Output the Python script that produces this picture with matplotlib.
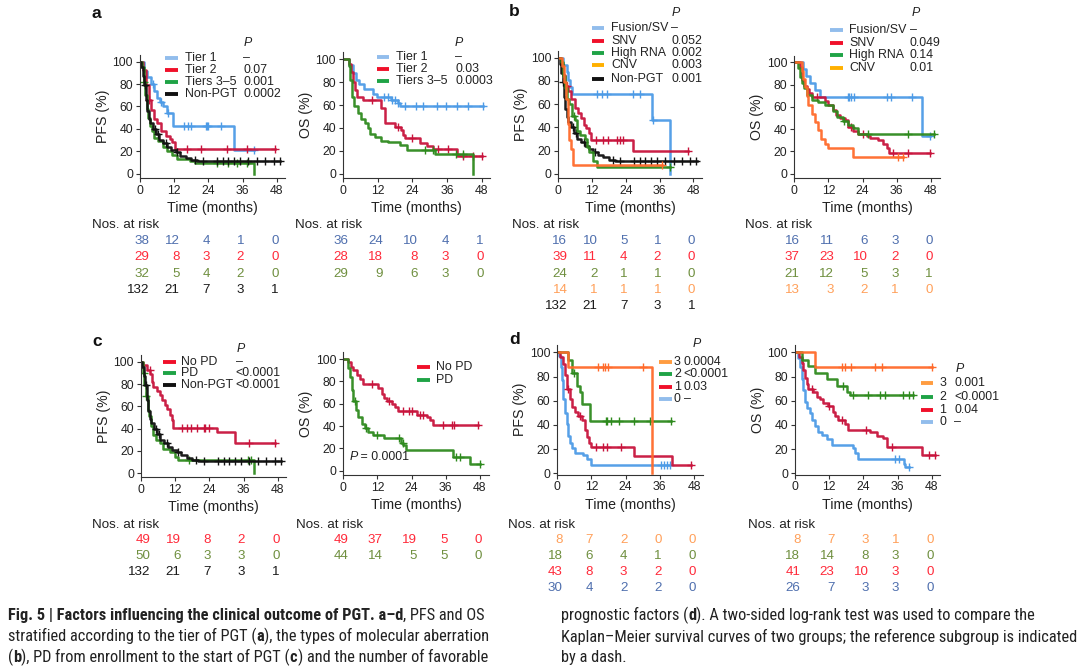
import numpy as np
import matplotlib
matplotlib.use('Agg')
import matplotlib.pyplot as plt
import matplotlib.transforms as mtransforms
from matplotlib import font_manager as fm

# ---- colours
BLUE, RED, GREEN, ORANGE, BLACK = '#4d9be6', '#c8143c', '#2e8a1e', '#ff6a2a', '#111111'
LBLUE, LRED, LGREEN, LORANGE, LGOLD = '#92bdec', '#f0102a', '#1fa346', '#ff9c40', '#ffb000'
TBLUE, TRED, TGREEN, TORANGE, TBLACK = '#4f6fae', '#ff2a3a', '#6f8f3f', '#ffa05a', '#1a1a1a'

# ---- KM step data: times (months), survival (%), censor times
nonpgt_t = [0, 0.5, 1.0, 1.5, 2.0, 2.5, 3.0, 3.5, 4.5, 5.5, 6.5, 8.0, 9.5, 11.0, 12.5, 14.0, 16.0, 18.0, 20.0]
nonpgt_s = [100, 95, 87, 79, 66, 56, 49, 45, 40, 35, 30, 27, 24, 21, 19, 16, 14, 12, 11]
nonpgt_c = [1.7, 5.2, 6.3, 9.1, 12.9, 19.3, 22, 27, 29, 31, 33, 35, 38, 41, 44, 47, 49]
nonpgt_end = 49.2

# a, PFS
a_pfs_t1_t = [0, 1.5, 2.5, 4, 5, 6, 7, 8, 9.5, 11.5, 33]
a_pfs_t1_s = [100, 92, 86, 80, 74, 68, 64, 60, 54, 43, 21]
a_pfs_t1_c = [4.5, 7.5, 10, 15.5, 17, 18, 23, 23.5, 24, 28.5, 40]
a_pfs_t2_t = [0, 1.0, 2.0, 3.0, 3.8, 4.8, 5.8, 7.5, 9.3, 10.5, 11.3, 12.2]
a_pfs_t2_s = [100, 93, 79, 66, 57, 49, 45, 38, 34, 31, 28, 22]
a_pfs_t2_c = [3.2, 16.5, 21.5, 30.5, 37.5, 47.5]
a_pfs_t3_t = [0, 0.8, 1.3, 1.8, 2.3, 2.9, 3.5, 4.1, 4.9, 6.3, 8.2, 9.6, 11.1, 12.9, 17.5, 19.3, 40.2]
a_pfs_t3_s = [100, 95, 82, 70, 58, 50, 43, 38, 32, 29, 24, 20, 17, 13, 11, 9.5, 0]
a_pfs_t3_c = [1.5, 27, 31, 34, 37.5]
# a, OS
a_os_t1_t = [0, 2.1, 3.3, 4.4, 5.7, 7.4, 10.3, 11.6, 16.5, 19.0, 19.7]
a_os_t1_s = [100, 95, 88, 82, 78, 74, 70, 67, 64, 62, 59]
a_os_t1_c = [14.2, 15.6, 16.8, 17.9, 19.2, 21.5, 25.4, 27.7, 32.4, 35.8, 39.3, 43.4, 48.5]
a_os_t2_t = [0, 2.1, 2.9, 3.5, 4.0, 4.9, 6.9, 13.3, 14.5, 17.9, 19.9, 20.6, 21.4, 26.6, 28.9, 31.2, 39.5]
a_os_t2_s = [100, 96, 89, 80, 73, 67, 64, 57, 44, 41, 38, 34, 31, 27, 24, 22, 15.5]
a_os_t2_c = [10, 19, 24, 33, 36.5, 41.5, 45, 48]
a_os_t3_t = [0, 2.1, 2.5, 3.2, 3.7, 5.2, 6.4, 7.5, 8.7, 9.2, 11.0, 13.3, 15.6, 19.7, 22.0, 31.8, 44.9]
a_os_t3_s = [100, 94, 82, 67, 59, 53, 48, 44, 40, 35, 32, 29, 28, 25, 21, 17, 0]
a_os_t3_c = [28.5, 31, 39, 41.5]

# b, PFS
b_pfs_fus_t = [0, 1.8, 3.0, 3.6, 4.1, 4.7, 33.2, 39.7]
b_pfs_fus_s = [100, 94, 88, 81, 75, 69, 46, 0]
b_pfs_fus_c = [13.6, 15.4, 17.2, 26.7, 29.0, 33.5]
b_pfs_snv_t = [0, 1, 1.8, 2.4, 3.4, 4.5, 5.8, 7.0, 8.2, 9.3, 10.0, 11.0, 11.8, 26.7]
b_pfs_snv_s = [100, 95, 85, 76, 71, 64, 57, 52, 48, 42, 39, 35, 29, 19.5]
b_pfs_snv_c = [3.0, 13.5, 16, 17.5, 21, 22, 23, 46.2]
b_pfs_rna_t = [0, 1.0, 1.5, 2.4, 3.0, 3.9, 4.7, 5.9, 6.8, 7.7, 9.5, 10.3, 11.0, 12.4, 13.6]
b_pfs_rna_s = [100, 96, 84, 74, 64, 60, 50, 46, 37, 33, 30, 23, 19, 11, 6]
b_pfs_rna_c = [5.5, 39.7]
b_pfs_cnv_t = [0, 1.2, 2.0, 2.7, 3.3, 3.8, 4.4, 5.3]
b_pfs_cnv_s = [100, 93, 79, 64, 43, 29, 21, 7.5]
b_pfs_cnv_c = [36.7]
# b, OS
b_os_fus_t = [0, 2.9, 4.1, 5.5, 7.3, 9.0, 44.7]
b_os_fus_s = [100, 94, 88, 81, 75, 69, 34]
b_os_fus_c = [18.8, 19.3, 20, 21, 32.4, 33.8, 41.5, 47.7]
b_os_snv_t = [0, 2.0, 2.6, 3.4, 4.3, 5.2, 6.1, 10.8, 11.9, 13.7, 14.6, 16.0, 17.8, 19.0, 20.7, 22.5, 25.4, 26.6,
              29.5, 31.3, 32.4, 33.4]
b_os_snv_s = [100, 96, 84, 79, 76, 72, 69, 65, 62, 57, 53, 50, 48, 42, 38, 36, 34, 32, 30, 27, 23, 19]
b_os_snv_c = [8, 20, 24, 34.5, 40, 47.7]
b_os_rna_t = [0, 1.4, 2.0, 2.6, 3.4, 4.3, 6.1, 8.4, 10.8, 13.7, 14.9, 17.2, 19.0, 20.7, 22.5]
b_os_rna_s = [100, 95, 87, 81, 77, 71, 66, 64, 62, 56, 51, 47, 44, 41, 36]
b_os_rna_c = [17.5, 26, 40, 49]
b_os_cnv_t = [0, 2.6, 3.2, 3.7, 4.3, 4.9, 6.1, 7.3, 8.4, 9.3, 10.8, 11.9, 20.7]
b_os_cnv_s = [100, 92, 85, 78, 70, 62, 54, 46, 39, 31, 27, 23, 15]
b_os_cnv_c = [36.5, 38.3]

# c, PFS
c_pfs_no_t = [0, 0.8, 2.0, 3.2, 3.8, 4.3, 5.5, 6.7, 7.3, 8.4, 9.0, 10.2, 10.8, 11.4, 26.6, 33.0]
c_pfs_no_s = [100, 97, 93, 89, 82, 77, 74, 70, 66, 61, 58, 52, 48, 41, 37, 27]
c_pfs_no_c = [3.0, 14.5, 16, 17.5, 19.5, 22, 22.5, 24, 38, 47]
c_pfs_pd_t = [0, 0.6, 1.2, 1.6, 2.3, 2.9, 3.5, 4.3, 5.3, 6.7, 7.8, 10.2, 11.9, 13.1, 39.7]
c_pfs_pd_s = [100, 90, 79, 69, 57, 51, 42, 34, 30, 27, 22, 19, 15, 12, 0]
c_pfs_pd_c = [0.9, 1.8, 17, 37.5, 38.5]
# c, OS
c_os_no_t = [0, 1.8, 2.6, 3.5, 4.7, 5.9, 7.0, 12.3, 13.5, 14.3, 15.2, 17.0, 18.1, 19.3, 25.8, 29.3, 30.4, 31.6]
c_os_no_s = [100, 97, 93, 90, 86, 82, 78, 74, 69, 65, 62, 60, 57, 53, 50, 48, 45, 41]
c_os_no_c = [10, 16, 21, 23, 24, 27, 28, 35, 38, 39, 47.4]
c_os_pd_t = [0, 1.8, 2.3, 2.9, 3.5, 4.4, 5.3, 6.4, 7.6, 8.8, 10.5, 14.3, 20.3, 21.1, 22.0, 38.6, 44.5]
c_os_pd_s = [100, 92, 84, 72, 62, 54, 48, 42, 38, 35, 32, 29, 25, 23, 18.5, 12.5, 6]
c_os_pd_c = [4, 8, 12, 19.5, 21, 39.5, 41, 48]

# d, PFS (number of favourable prognostic factors)
d_pfs_3_t = [0, 3.9, 33.1]
d_pfs_3_s = [100, 87.5, 0]
d_pfs_3_c = [14.4, 16.2, 16.8, 17.9, 30.2]
d_pfs_2_t = [0, 3.9, 5.0, 6.8, 8.0, 8.6, 11.5]
d_pfs_2_s = [100, 94, 83, 72, 67, 57, 43]
d_pfs_2_c = [6, 17, 17.5, 19, 21.5, 27, 32.5, 40]
d_pfs_1_t = [0, 0.9, 2.1, 2.7, 3.3, 4.4, 5.0, 6.2, 7.4, 8.5, 9.7, 10.5, 11.2, 11.7, 26.9, 40.4]
d_pfs_1_s = [100, 96, 90, 81, 70, 61, 55, 51, 47, 44, 36, 30, 25, 21.5, 14, 7]
d_pfs_1_c = [3.6, 8, 13.5, 16, 17.5, 22.5, 46.8]
d_pfs_0_t = [0, 0.7, 1.2, 1.6, 2.1, 2.7, 3.3, 3.9, 4.4, 5.0, 6.2, 9.1, 10.3, 11.7]
d_pfs_0_s = [100, 97, 88, 77, 61, 50, 41, 31, 25, 21, 16.5, 15, 12, 7]
d_pfs_0_c = [36.5, 37.5, 38.5, 39.5]
# d, OS
d_os_3_t = [0, 7.0]
d_os_3_s = [100, 87.5]
d_os_3_c = [16.5, 17.4, 19.7, 28.1, 30.4, 48]
d_os_2_t = [0, 2.3, 4.7, 7.0, 11.1, 14.6, 18.1, 19.3]
d_os_2_s = [100, 94, 89, 83, 78, 72, 67, 65]
d_os_2_c = [17, 20.5, 25.5, 30, 31.5, 38, 40, 41.6]
d_os_1_t = [0, 1.5, 2.3, 2.9, 3.5, 4.1, 4.7, 6.4, 7.6, 8.8, 9.9, 11.7, 13.5, 14.0, 15.2, 17.6, 18.7, 26.4, 28.7,
            30.8, 32.2, 44.5]
d_os_1_s = [100, 96, 91, 85, 79, 74, 70, 67, 63, 61, 58, 56, 51, 47, 44, 41, 36, 34, 31, 29, 22, 15]
d_os_1_c = [6, 12, 16.5, 25, 34, 47, 49]
d_os_0_t = [0, 1.2, 1.8, 2.3, 2.9, 3.5, 4.1, 5.3, 5.9, 7.0, 8.2, 9.4, 11.1, 12.9, 20.5, 21.1, 22.2, 38.1, 38.6]
d_os_0_s = [100, 95, 88, 78, 69, 59, 54, 50, 44, 39, 34, 32, 28, 23, 21, 17, 12, 8, 5.5]
d_os_0_c = [35, 36.5, 40]

# ---- numbers at risk (0, 12, 24, 36, 48 months)
risk_months = [0, 12, 24, 36, 48]
a_pfs_risk = [[38, 12, 4, 1, 0], [29, 8, 3, 2, 0], [32, 5, 4, 2, 0], [132, 21, 7, 3, 1]]
a_os_risk = [[36, 24, 10, 4, 1], [28, 18, 8, 3, 0], [29, 9, 6, 3, 0]]
b_pfs_risk = [[16, 10, 5, 1, 0], [39, 11, 4, 2, 0], [24, 2, 1, 1, 0], [14, 1, 1, 1, 0], [132, 21, 7, 3, 1]]
b_os_risk = [[16, 11, 6, 3, 0], [37, 23, 10, 2, 0], [21, 12, 5, 3, 1], [13, 3, 2, 1, 0]]
c_pfs_risk = [[49, 19, 8, 2, 0], [50, 6, 3, 3, 0], [132, 21, 7, 3, 1]]
c_os_risk = [[49, 37, 19, 5, 0], [44, 14, 5, 5, 0]]
d_pfs_risk = [[8, 7, 2, 0, 0], [18, 6, 4, 1, 0], [43, 8, 3, 2, 0], [30, 4, 2, 2, 0]]
d_os_risk = [[8, 7, 3, 1, 0], [18, 14, 8, 3, 0], [41, 23, 10, 3, 0], [26, 7, 3, 3, 0]]

# ---- legends: label, P value
a_pfs_leg = [('Tier 1', '–'), ('Tier 2', '0.07'), ('Tiers 3–5', '0.001'), ('Non-PGT', '0.0002')]
a_os_leg = [('Tier 1', '–'), ('Tier 2', '0.03'), ('Tiers 3–5', '0.0003')]
b_pfs_leg = [('Fusion/SV', '–'), ('SNV', '0.052'), ('High RNA', '0.002'), ('CNV', '0.003'), ('Non-PGT', '0.001')]
b_os_leg = [('Fusion/SV', '–'), ('SNV', '0.049'), ('High RNA', '0.14'), ('CNV', '0.01')]
c_pfs_leg = [('No PD', '–'), ('PD', '<0.0001'), ('Non-PGT', '<0.0001')]
c_os_leg = [('No PD', None), ('PD', None)]
d_pfs_leg = [('3', '0.0004'), ('2', '<0.0001'), ('1', '0.03'), ('0', '–')]
d_os_leg = [('3', '0.001'), ('2', '<0.0001'), ('1', '0.04'), ('0', '–')]

plt.rcParams['font.family'] = ['Liberation Sans', 'DejaVu Sans']
plt.rcParams['axes.linewidth'] = 0.8
W, H = 1080, 672
fig = plt.figure(figsize=(10.8, 6.72), dpi=100)
ov = fig.add_axes([0, 0, 1, 1], zorder=10)
ov.set_xlim(0, W)
ov.set_ylim(H, 0)
ov.axis('off')
TXT = '#222222'
LEG_FS = 8.9
TAB_FS = 9.6


def km_axes(x0, x48, y100, y0, ylab, ylo=-3.5, yhi=106, xhi=51):
    pxm = (x48 - x0) / 48.
    pyp = (y0 - y100) / 100.
    right = x0 + xhi * pxm
    top = y0 - yhi * pyp
    bot = y0 - ylo * pyp
    ax = fig.add_axes([x0 / W, 1 - bot / H, (right - x0) / W, (bot - top) / H])
    ax.set_xlim(0, xhi)
    ax.set_ylim(ylo, yhi)
    ax.set_xticks(risk_months)
    ax.set_yticks([0, 20, 40, 60, 80, 100])
    for sp in ['top', 'right']:
        ax.spines[sp].set_visible(False)
    for sp in ['left', 'bottom']:
        ax.spines[sp].set_color('#333333')
    ax.tick_params(length=3, width=0.8, labelsize=8.8, pad=2, colors='#333333', labelcolor=TXT)
    ax.set_xlabel('Time (months)', fontsize=10.2, color=TXT, labelpad=3)
    ax.set_ylabel(ylab, fontsize=10.2, color=TXT, labelpad=2)
    ax.patch.set_alpha(0)
    return ax


def km(ax, t, s, cens, color, end=None):
    if end is None:
        end = max(cens + [t[-1]])
    tt = list(t) + [end]
    ss = list(s) + [s[-1]]
    ax.step(tt, ss, where='post', color=color, lw=1.8, alpha=0.95)
    ta = np.array(t)
    sa = np.array(s)
    cy = [sa[np.searchsorted(ta, c, side='right') - 1] for c in cens]
    ax.plot(cens, cy, ls='none', marker='+', ms=6, mew=1.0, color=color)


def legend(items, colors, xl, xt, xv, ys, pxy=None, fs=LEG_FS):
    for (lab, val), col, y in zip(items, colors, ys):
        ov.plot([xl, xl + 12.5], [y, y], color=col, lw=2.8, solid_capstyle='butt')
        ov.text(xt, y, lab, fontsize=fs, va='center', ha='left', color=TXT)
        if val is not None:
            ov.text(xv, y, val, fontsize=fs, va='center', ha='left', color=TXT)
    if pxy is not None:
        ov.text(pxy[0], pxy[1], 'P', fontsize=fs, style='italic', va='center', ha='left', color=TXT)


def risk_table(ax, rows, colors, xlab, ylab, dy):
    ov.text(xlab, ylab, 'Nos. at risk', fontsize=TAB_FS, va='center', ha='left', color=TXT)
    tr = mtransforms.blended_transform_factory(ax.transData, ov.transData)
    for j, m in enumerate(risk_months):
        nd = max(len(str(r[j])) for r in rows)
        off = mtransforms.ScaledTranslation((3.7 * nd - 2) / 100., 0, fig.dpi_scale_trans)
        for i, (r, col) in enumerate(zip(rows, colors)):
            ov.text(m, ylab + dy * (i + 1), str(r[j]), transform=tr + off, fontsize=TAB_FS,
                    ha='right', va='center', color=col)


# ---------------- panel a
ax = km_axes(140, 276.7, 61.7, 173.7, 'PFS (%)')
km(ax, a_pfs_t1_t, a_pfs_t1_s, a_pfs_t1_c, BLUE)
km(ax, a_pfs_t2_t, a_pfs_t2_s, a_pfs_t2_c, RED)
km(ax, a_pfs_t3_t, a_pfs_t3_s, a_pfs_t3_c, GREEN)
km(ax, nonpgt_t, nonpgt_s, nonpgt_c, BLACK, nonpgt_end)
legend(a_pfs_leg, [LBLUE, LRED, LGREEN, BLACK], 165, 185, 243, [57.7, 70, 81.7, 94.3], (244, 43))
risk_table(ax, a_pfs_risk, [TBLUE, TRED, TGREEN, TBLACK], 91.5, 225, 16.2)

ax = km_axes(343, 481.7, 59.3, 173.7, 'OS (%)')
km(ax, a_os_t1_t, a_os_t1_s, a_os_t1_c, BLUE)
km(ax, a_os_t2_t, a_os_t2_s, a_os_t2_c, RED)
km(ax, a_os_t3_t, a_os_t3_s, a_os_t3_c, GREEN)
legend(a_os_leg, [LBLUE, LRED, LGREEN], 376.5, 396, 455, [57.3, 69.3, 81], (455, 43))
risk_table(ax, a_os_risk, [TBLUE, TRED, TGREEN], 295, 225, 16.2)

# ---------------- panel b
ax = km_axes(558.3, 693.3, 57.7, 173.7, 'PFS (%)')
km(ax, b_pfs_fus_t, b_pfs_fus_s, b_pfs_fus_c, BLUE)
km(ax, b_pfs_snv_t, b_pfs_snv_s, b_pfs_snv_c, RED)
km(ax, nonpgt_t, nonpgt_s, nonpgt_c, BLACK, nonpgt_end)
km(ax, b_pfs_rna_t, b_pfs_rna_s, b_pfs_rna_c, GREEN)
km(ax, b_pfs_cnv_t, b_pfs_cnv_s, b_pfs_cnv_c, ORANGE)
legend(b_pfs_leg, [LBLUE, LRED, LGREEN, LGOLD, BLACK], 591.5, 611, 671, [28.3, 40.7, 52.7, 65, 78.5],
       (671.5, 12.7))
risk_table(ax, b_pfs_risk, [TBLUE, TRED, TGREEN, TORANGE, TBLACK], 511.5, 225, 16.2)

ax = km_axes(794.3, 931, 62.3, 173.7, 'OS (%)')
km(ax, b_os_fus_t, b_os_fus_s, b_os_fus_c, BLUE)
km(ax, b_os_snv_t, b_os_snv_s, b_os_snv_c, RED)
km(ax, b_os_rna_t, b_os_rna_s, b_os_rna_c, GREEN)
km(ax, b_os_cnv_t, b_os_cnv_s, b_os_cnv_c, ORANGE)
legend(b_os_leg, [LBLUE, LRED, LGREEN, LGOLD], 830, 849, 910, [30, 42.7, 55, 67.7], (911.5, 13.3))
risk_table(ax, b_os_risk, [TBLUE, TRED, TGREEN, TORANGE], 745, 225, 16.2)

# ---------------- panel c
ax = km_axes(141, 277.7, 361.7, 473.3, 'PFS (%)')
km(ax, c_pfs_no_t, c_pfs_no_s, c_pfs_no_c, RED)
km(ax, c_pfs_pd_t, c_pfs_pd_s, c_pfs_pd_c, GREEN)
km(ax, nonpgt_t, nonpgt_s, nonpgt_c, BLACK, nonpgt_end)
legend(c_pfs_leg, [LRED, LGREEN, BLACK], 163, 181, 235.5, [361.7, 373.3, 385], (236.5, 349.3))
risk_table(ax, c_pfs_risk, [TRED, TGREEN, TBLACK], 91.5, 524.5, 15.8)

ax = km_axes(343.3, 480, 359, 470.7, 'OS (%)')
km(ax, c_os_no_t, c_os_no_s, c_os_no_c, RED)
km(ax, c_os_pd_t, c_os_pd_s, c_os_pd_c, GREEN)
legend(c_os_leg, [LRED, LGREEN], 417, 436, 0, [366.7, 380])
ov.text(350, 456.5, 'P', fontsize=LEG_FS, style='italic', va='center', ha='left', color=TXT)
ov.text(357, 456.5, ' = 0.0001', fontsize=LEG_FS, va='center', ha='left', color=TXT)
risk_table(ax, c_os_risk, [TRED, TGREEN], 295.5, 524.5, 15.8)

# ---------------- panel d
ax = km_axes(557.3, 694, 352.3, 473.3, 'PFS (%)', ylo=-1)
km(ax, d_pfs_0_t, d_pfs_0_s, d_pfs_0_c, BLUE)
km(ax, d_pfs_1_t, d_pfs_1_s, d_pfs_1_c, RED)
km(ax, d_pfs_2_t, d_pfs_2_s, d_pfs_2_c, GREEN)
km(ax, d_pfs_3_t, d_pfs_3_s, d_pfs_3_c, ORANGE)
legend(d_pfs_leg, [LORANGE, LGREEN, LRED, LBLUE], 659.3, 674, 683.5, [362.3, 374.3, 386.7, 399.3], (693, 344))
risk_table(ax, d_pfs_risk, [TORANGE, TGREEN, TRED, TBLUE], 508, 524.5, 15.8)

ax = km_axes(795, 931.7, 352.3, 473.3, 'OS (%)', ylo=-1)
km(ax, d_os_0_t, d_os_0_s, d_os_0_c, BLUE)
km(ax, d_os_1_t, d_os_1_s, d_os_1_c, RED)
km(ax, d_os_2_t, d_os_2_s, d_os_2_c, GREEN)
km(ax, d_os_3_t, d_os_3_s, d_os_3_c, ORANGE, 48)
legend(d_os_leg, [LORANGE, LGREEN, LRED, LBLUE], 920.7, 939.5, 954.5, [383.3, 396.7, 410, 421.7], (955.5, 369.3))
risk_table(ax, d_os_risk, [TORANGE, TGREEN, TRED, TBLUE], 748, 524.5, 15.8)

# panel letters
for lab, x, y in [('a', 91, 13), ('b', 509, 12), ('c', 92, 341), ('d', 509, 340)]:
    ov.text(x, y, lab, fontsize=12.5, fontweight='bold', va='center', ha='left', color='#111111')

# ---------------- caption (condensed face if one is installed)
names = {f.name for f in fm.fontManager.ttflist}
CAP_FONT, CAP_STRETCH = 'Liberation Sans', 'normal'
for cand in ['Liberation Sans Narrow', 'Roboto Condensed', 'Noto Sans Condensed', 'Open Sans Condensed',
             'DejaVu Sans Condensed']:
    if cand in names:
        CAP_FONT = cand
        break
else:
    for f in fm.fontManager.ttflist:
        if str(f.stretch) in ('condensed', 'semi-condensed') and f.name in ('Noto Sans', 'DejaVu Sans', 'Roboto'):
            CAP_FONT, CAP_STRETCH = f.name, str(f.stretch)
            break
renderer = fig.canvas.get_renderer()


def cap_text(x, y, txt, size, bold):
    return ov.text(x, y, txt, fontsize=size, family=CAP_FONT, fontstretch=CAP_STRETCH, va='center',
                   ha='left', color=TXT, fontweight='bold' if bold else 'normal')


def run_width(parts, size):
    w = 0
    for txt, bold in parts:
        t = cap_text(0, 0, txt, size, bold)
        w += t.get_window_extent(renderer=renderer).width
        t.remove()
    return w


def draw_runs(x, y, parts, size):
    for txt, bold in parts:
        t = cap_text(x, y, txt, size, bold)
        x += t.get_window_extent(renderer=renderer).width


cap_left = [
    [('Fig. 5 | Factors influencing the clinical outcome of PGT. a–d', True), (', PFS and OS', False)],
    [('stratified according to the tier of PGT (', False), ('a', True), ('), the types of molecular aberration', False)],
    [('(', False), ('b', True), ('), PD from enrollment to the start of PGT (', False), ('c', True),
     (') and the number of favorable', False)],
]
cap_right = [
    [('prognostic factors (', False), ('d', True), ('). A two-sided log-rank test was used to compare the', False)],
    [('Kaplan–Meier survival curves of two groups; the reference subgroup is indicated', False)],
    [('by a dash.', False)],
]
cap_size = 10 * 516 / run_width(cap_right[1], 10)
for i, parts in enumerate(cap_left):
    draw_runs(8, 615.5 + 21 * i, parts, cap_size)
for i, parts in enumerate(cap_right):
    draw_runs(561, 615.5 + 21 * i, parts, cap_size)

fig.savefig('out.png', dpi=100)
